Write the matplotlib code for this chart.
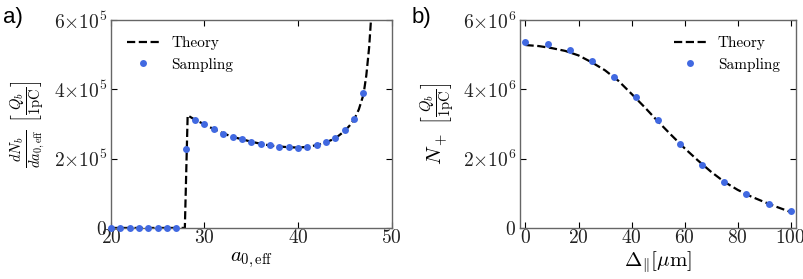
import matplotlib
import matplotlib.pyplot as plt
from matplotlib.ticker import FuncFormatter

matplotlib.use("Agg")

# panel a) spectrum dN_b / da_0,eff
a_theory_x = [20, 27.9, 28.2, 29, 30, 31, 32, 33, 34, 35, 36, 37, 38, 39, 40, 41, 42,
              43, 44, 45, 45.5, 46, 46.5, 47, 47.3, 47.6, 47.8]
a_theory_y = [0, 0, 3.25e5, 3.12e5, 2.99e5, 2.85e5, 2.73e5, 2.63e5, 2.56e5, 2.49e5,
              2.43e5, 2.38e5, 2.35e5, 2.33e5, 2.32e5, 2.34e5, 2.39e5, 2.47e5, 2.59e5,
              2.80e5, 2.95e5, 3.13e5, 3.42e5, 3.85e5, 4.40e5, 5.20e5, 6.0e5]
a_samp_x = list(range(20, 48))
a_samp_y = [0, 0, 0, 0, 0, 0, 0, 0, 2.28e5, 3.11e5, 2.99e5, 2.85e5, 2.72e5, 2.63e5,
            2.56e5, 2.48e5, 2.42e5, 2.38e5, 2.35e5, 2.33e5, 2.31e5, 2.35e5, 2.40e5,
            2.47e5, 2.59e5, 2.82e5, 3.15e5, 3.90e5]

# panel b) N_+ versus Delta_par
b_theory_x = [0, 5, 10, 15, 20, 25, 30, 35, 40, 45, 50, 55, 60, 65, 70, 75, 80, 85,
              90, 95, 100]
b_theory_y = [5.28e6, 5.25e6, 5.19e6, 5.11e6, 4.98e6, 4.78e6, 4.55e6, 4.25e6, 3.87e6,
              3.48e6, 3.07e6, 2.68e6, 2.30e6, 1.95e6, 1.62e6, 1.33e6, 1.10e6, 0.91e6,
              0.75e6, 0.60e6, 0.46e6]
b_samp_x = [0, 8.33, 16.67, 25, 33.33, 41.67, 50, 58.33, 66.67, 75, 83.33, 91.67, 100]
b_samp_y = [5.37e6, 5.31e6, 5.13e6, 4.81e6, 4.37e6, 3.78e6, 3.11e6, 2.43e6, 1.83e6,
            1.33e6, 0.97e6, 0.69e6, 0.48e6]

plt.rcParams["mathtext.fontset"] = "cm"
plt.rcParams["font.family"] = ["cmr10", "DejaVu Serif"]
plt.rcParams["axes.formatter.use_mathtext"] = True


def sci_fmt(exp):
    def f(v, pos):
        if v == 0:
            return r"$0$"
        return r"$%d{\times}10^{%d}$" % (round(v / 10 ** exp), exp)
    return FuncFormatter(f)


def style_axes(ax, exp):
    ax.tick_params(direction="in", top=True, right=True, length=4, width=0.8,
                   labelsize=14, pad=3, colors="black", labelcolor="#222222")
    ax.tick_params(axis="x", pad=1)
    for s in ax.spines.values():
        s.set_color("#666666")
        s.set_linewidth(1.0)
    ax.yaxis.set_major_formatter(sci_fmt(exp))
    ax.xaxis.set_major_formatter(FuncFormatter(lambda v, p: r"$%d$" % v))


fig = plt.figure(figsize=(8.04, 2.79), dpi=100)
ax1 = fig.add_axes([0.138, 0.183, 0.349, 0.745])
ax2 = fig.add_axes([0.647, 0.183, 0.343, 0.745])

ax1.plot(a_theory_x, a_theory_y, "--", color="black", lw=1.6, label="Theory", zorder=2)
ax1.plot(a_samp_x, a_samp_y, "o", color="royalblue", ms=5, mec="none",
         label="Sampling", zorder=3, clip_on=False)
ax1.set_xlim(20, 50)
ax1.set_ylim(0, 6e5)
ax1.set_xticks([20, 30, 40, 50])
ax1.set_yticks([0, 2e5, 4e5, 6e5])
style_axes(ax1, 5)
ax1.set_xlabel(r"$a_{0,\mathrm{eff}}$", fontsize=15, labelpad=2)
ax1.set_ylabel(r"$\frac{dN_b}{da_{0,\mathrm{eff}}}\ \left[\frac{Q_b}{1\mathrm{pC}}\right]$",
               fontsize=15, labelpad=4)
ax1.legend(loc="upper left", frameon=False, fontsize=11, numpoints=1,
           handlelength=2.1, borderaxespad=0.65)

ax2.plot(b_theory_x, b_theory_y, "--", color="black", lw=1.6, label="Theory", zorder=2)
ax2.plot(b_samp_x, b_samp_y, "o", color="royalblue", ms=5, mec="none",
         label="Sampling", zorder=3)
ax2.set_xlim(-2, 102)
ax2.set_ylim(0, 6e6)
ax2.set_xticks([0, 20, 40, 60, 80, 100])
ax2.set_yticks([0, 2e6, 4e6, 6e6])
style_axes(ax2, 6)
ax2.set_xlabel(r"$\Delta_{\|}[\mu\mathrm{m}]$", fontsize=15, labelpad=2)
ax2.set_ylabel(r"$N_+\ \left[\frac{Q_b}{1\mathrm{pC}}\right]$", fontsize=15, labelpad=4)
ax2.legend(loc="upper right", frameon=False, fontsize=11, numpoints=1,
           handlelength=2.1, borderaxespad=0.65)

fig.text(0.004, 0.975, "a)", fontsize=16, va="top", ha="left", family="Liberation Sans")
fig.text(0.512, 0.975, "b)", fontsize=16, va="top", ha="left", family="Liberation Sans")

fig.savefig("out.png", dpi=100)
